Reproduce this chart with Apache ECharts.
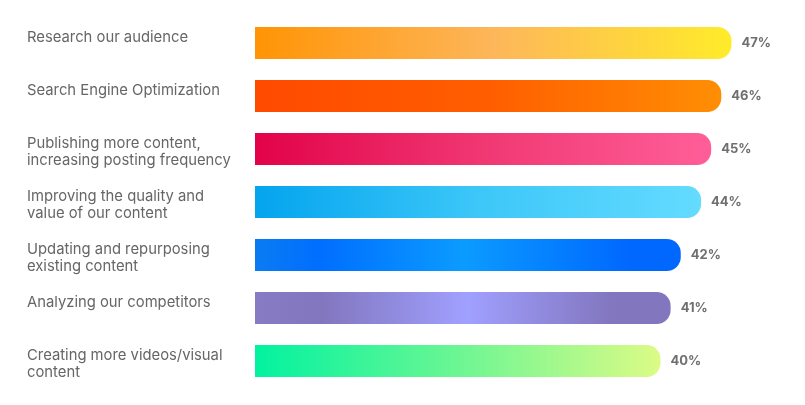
<!DOCTYPE html>
<html>
<head>
<meta charset="utf-8">
<script src="https://cdn.jsdelivr.net/npm/echarts@6/dist/echarts.min.js"></script>
<style>
html,body{margin:0;padding:0;background:#fff;}
#chart{width:805px;height:405px;}
</style>
</head>
<body>
<div id="chart"></div>
<script>
var categories = [
  "Research our audience",
  "Search Engine Optimization",
  "Publishing more content,\nincreasing posting frequency",
  "Improving the quality and\nvalue of our content",
  "Updating and repurposing\nexisting content",
  "Analyzing our competitors",
  "Creating more videos/visual\ncontent"
];
var values = [47, 46, 45, 44, 42, 41, 40];

var gradients = [
  [[0, '#FF9405'], [0.5, '#FDB65A'], [1, '#FFEB2A']],
  [[0, '#FF4A00'], [0.5, '#FF5E00'], [1, '#FF8E04']],
  [[0, '#E2024A'], [0.5, '#F03873'], [1, '#FF5E98']],
  [[0, '#04A4EE'], [0.5, '#3CC7F8'], [1, '#64DBFF']],
  [[0, '#0A7CF2'], [0.15, '#006EFF'], [0.49, '#0B9BFF'], [0.88, '#0068FF'], [1, '#0068FF']],
  [[0, '#877BC3'], [0.16, '#8276BE'], [0.51, '#A0A0FF'], [0.86, '#8276BE'], [1, '#8276BE']],
  [[0, '#02F2A0'], [0.5, '#6CF693'], [1, '#DCFB86']]
];

function grad(stops) {
  return new echarts.graphic.LinearGradient(0, 0, 1, 0,
    stops.map(function (s) { return { offset: s[0], color: s[1] }; }));
}

var seriesData = values.map(function (v, i) {
  return { value: v, itemStyle: { color: grad(gradients[i]) } };
});

function labelFormatter(v) {
  var lines = String(v).split('\n');
  var body = lines.map(function (l) { return '{a|' + l + '}'; }).join('\n');
  if (lines.length > 1) return '{top| }\n' + body;
  return body + '\n{bot| }';
}

var chart = echarts.init(document.getElementById('chart'), null, { renderer: 'canvas' });
chart.setOption({
  animation: false,
  backgroundColor: '#ffffff',
  grid: { left: 255, right: 33, top: 16.5, bottom: 17.5, containLabel: false, outerBoundsMode: 'none' },
  xAxis: {
    type: 'value', min: 0, max: 51, show: false
  },
  yAxis: {
    type: 'category',
    inverse: true,
    data: categories,
    axisLine: { show: false },
    axisTick: { show: false },
    splitLine: { show: false },
    axisLabel: {
      align: 'left',
      margin: 228,
      formatter: labelFormatter,
      rich: {
        a: { color: '#666666', fontFamily: 'Inter', fontSize: 14.8, lineHeight: 17, align: 'left' },
        top: { fontSize: 2, lineHeight: 6 },
        bot: { fontSize: 2, lineHeight: 10 }
      }
    }
  },
  series: [{
    type: 'bar',
    data: seriesData,
    barWidth: 32,
    itemStyle: { borderRadius: [0, 14, 14, 0] },
    label: {
      show: true,
      position: 'right',
      distance: 10,
      formatter: '{c}%',
      color: '#6f6f6f',
      fontFamily: 'Inter',
      fontWeight: 'bold',
      fontSize: 13
    }
  }]
});
</script>
</body>
</html>
